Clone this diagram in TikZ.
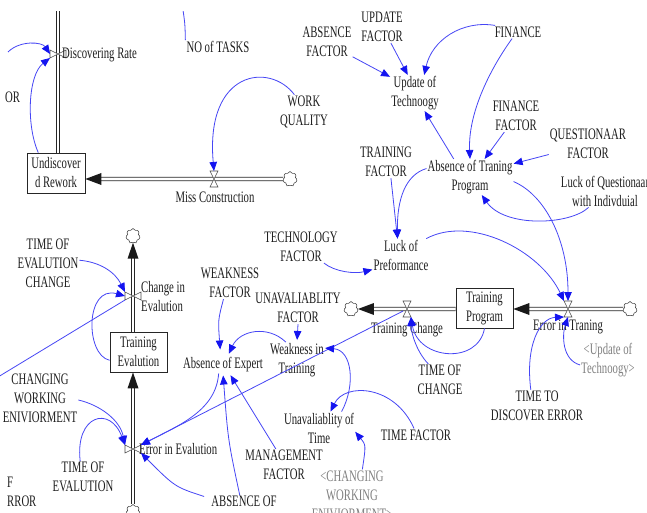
\documentclass[tikz,border=0pt]{standalone}
\usepackage{fontspec}
\setmainfont{Liberation Serif}[FakeStretch=0.67]
\usetikzlibrary{arrows.meta,shapes.symbols}
\definecolor{linkblue}{RGB}{70,70,245}
\definecolor{headblue}{RGB}{20,20,240}
\definecolor{txt}{RGB}{30,30,30}
\definecolor{ghost}{RGB}{128,128,128}
\begin{document}
\begin{tikzpicture}[x=1pt,y=-1pt,
  lbl/.style={font=\fontsize{16}{19}\selectfont, align=center, inner sep=1pt, text=txt},
  stockbox/.style={draw=black!85, line width=0.8pt, fill=white, minimum width=57pt, minimum height=40pt, inner sep=1pt, align=center, font=\fontsize{16}{19}\selectfont, text=txt},
  cloudy/.style={cloud, cloud puffs=7, aspect=1, draw=black!70, line width=0.6pt, fill=white, minimum width=14pt, minimum height=15pt, inner sep=0pt},
  hv/.style={minimum width=8pt, minimum height=16pt, inner sep=0pt, outer sep=0pt},
  vv/.style={minimum width=16pt, minimum height=8pt, inner sep=0pt, outer sep=0pt},
  valveline/.style={draw=black!70, line width=0.6pt, fill=white},
  pipe/.style={draw=black!85, line width=0.9pt, double=white, double distance=2.6pt},
  link/.style={draw=linkblue, line width=0.8pt, -{Triangle[length=9pt,width=7.5pt,color=headblue]}},
  plainlink/.style={draw=linkblue, line width=0.8pt},
  phL/.pic={\fill[black!90] (0,0) -- (16,-6) -- (16,6) -- cycle;},
  phU/.pic={\fill[black!90] (0,0) -- (-5.5,16) -- (5.5,16) -- cycle;}
]
\useasboundingbox (0,0) rectangle (647,513);
\fill[white] (0,0) rectangle (647,513);
\begin{scope}
\clip (0,12) rectangle (647,513);

% stocks
\node[stockbox, minimum width=58pt] (undisc) at (56,173) {Undiscover\\d Rework};
\node[stockbox] (teval) at (138.5,352) {Training\\Evalution};
\node[stockbox] (tprog) at (484.5,308) {Training\\Program};

% clouds
\node[cloudy] (c1) at (290,179) {};
\node[cloudy] (c2) at (133,512) {};
\node[cloudy] (c3) at (133,236) {};
\node[cloudy] (c4) at (630,309) {};
\node[cloudy] (c5) at (351,309) {};

% valves (positions)
\node[vv] (vdisc) at (58,54) {};
\node[hv] (vmiss) at (214,179) {};
\node[vv] (vce) at (133,296) {};
\node[vv] (vee) at (133,449) {};
\node[hv] (vet) at (568,309) {};
\node[hv] (vtc) at (407,309) {};

% pipes
\coordinate (ptop) at (58,0);
\draw[pipe] (ptop) -- (ptop |- undisc.north);
\draw[pipe, shorten >=14pt] (c1.west) -- (undisc.east |- c1);
\pic at (undisc.east |- c1) {phL};
\draw[pipe, shorten >=14pt] (c2.north) -- (c2 |- teval.south);
\pic at (c2 |- teval.south) {phU};
\draw[pipe, shorten >=14pt] (c2 |- teval.north) -- (c3.south);
\pic at (c3.south) {phU};
\draw[pipe, shorten >=14pt] (c4.west) -- (tprog.east |- c4);
\pic at (tprog.east |- c4) {phL};
\draw[pipe, shorten >=14pt] (tprog.west |- c5) -- (c5.east);
\pic at (c5.east) {phL};

% valve glyphs
\foreach \v in {vmiss,vet,vtc}
  \draw[valveline] (\v.north west) -- (\v.north east) -- (\v.south west) -- (\v.south east) -- cycle;
\foreach \v in {vdisc,vce,vee}
  \draw[valveline] (\v.north west) -- (\v.south west) -- (\v.north east) -- (\v.south east) -- cycle;

% valve labels
\node[lbl,anchor=west] (disclbl) at (61,55) {Discovering Rate};
\node[lbl] (misslbl) at (215,197) {Miss Construction};
\node[lbl,anchor=west,align=left] (celbl) at (140,297) {Change in\\Evalution};
\node[lbl,anchor=west] (eelbl) at (138,449) {Error in Evalution};
\node[lbl] (etlbl) at (568,327) {Error in Traning};
\node[lbl] (tclbl) at (407,330) {Training Change};

% auxiliaries
\node[lbl,anchor=west] (orl) at (4,97) {OR};
\node[lbl] (notasks) at (218,47) {NO of TASKS};
\node[lbl] (wq) at (304,112) {WORK\\QUALITY};
\node[lbl] (updf) at (382,27) {UPDATE\\FACTOR};
\node[lbl] (absf) at (327,42) {ABSENCE\\FACTOR};
\node[lbl] (upd) at (415,93) {Update of\\Technoogy};
\node[lbl] (fin) at (518,32) {FINANCE};
\node[lbl] (finf) at (516,116) {FINANCE\\FACTOR};
\node[lbl] (qf) at (588,144) {QUESTIONAAR\\FACTOR};
\node[lbl] (atp) at (470,177) {Absence of Traning\\Program};
\node[lbl] (lq) at (605,191) {Luck of Questionaar\\with Indivduial};
\node[lbl] (trf) at (386,162) {TRAINING\\FACTOR};
\node[lbl] (lp) at (401,255) {Luck of\\Preformance};
\node[lbl] (techf) at (301,247) {TECHNOLOGY\\FACTOR};
\node[lbl] (weakf) at (230,283) {WEAKNESS\\FACTOR};
\node[lbl] (unavf) at (298,308) {UNAVALIABLITY\\FACTOR};
\node[lbl] (wit) at (297,360) {Weakness in\\Training};
\node[lbl] (aoe) at (223,365) {Absence of Expert};
\node[lbl] (absm) at (244,511) {ABSENCE OF\\MANAGEMENT};
\node[lbl] (mgmt) at (284,465) {MANAGEMENT\\FACTOR};
\node[lbl] (uot) at (319,428) {Unavaliablity of\\Time};
\node[lbl] (timef) at (416,435) {TIME FACTOR};
\node[lbl,text=ghost] (cweg) at (352,495) {<CHANGING\\WORKING\\ENIVIORMENT>};
\node[lbl] (toc) at (440,380) {TIME OF\\CHANGE};
\node[lbl] (ttde) at (537,406) {TIME TO\\DISCOVER ERROR};
\node[lbl,text=ghost] (uotg) at (608,360) {<Update of\\Technoogy>};
\node[lbl] (toec) at (48,263) {TIME OF\\EVALUTION\\CHANGE};
\node[lbl] (cwe) at (40,398) {CHANGING\\WORKING\\ENIVIORMENT};
\node[lbl] (toe) at (83,477) {TIME OF\\EVALUTION};
\node[lbl,anchor=west,align=left] (ferr) at (6,492) {F\\RROR};

% connectors
\coordinate (orsrc) at (8,52);
\draw[link] (orsrc) .. controls (20,40) and (42,42) .. (vdisc.west);
\draw[link] (undisc.131) .. controls (26,125) and (28,75) .. (vdisc.south west);
\coordinate (ntsrc) at (183,10);
\draw[plainlink] (ntsrc) .. controls (185,24) .. (notasks.north west);
\draw[link] (wq.119) .. controls (270,62) and (205,70) .. (vmiss.north);
\draw[link] (updf.-61) -- (upd.112);
\draw[link] (absf.-30) -- (upd.147);
\draw[link] (fin.164) .. controls (462,20) and (432,40) .. (upd.63);
\draw[link] (fin.228) .. controls (488,72) and (468,115) .. (atp.north);
\draw[link] (finf.234) -- (atp.51);
\draw[link] (qf.195) -- (atp.17);
\draw[link] (atp.132) -- (upd.-62);
\draw[link] (lq.225) .. controls (570,225) and (505,228) .. (atp.-57);
\draw[link] (atp.-6) .. controls (545,195) and (568,240) .. (vet.north);
\draw[link] (trf.-73) -- (lp.102);
\draw[link] (atp.169) .. controls (405,175) and (397,200) .. (lp.102);
\draw[link] (lp.33) .. controls (470,215) and (540,250) .. (vet.north west);
\draw[link] (techf.-35) .. controls (335,272) and (355,274) .. (lp.207);
\draw[link, shorten >=7pt] (weakf.248) .. controls (218,320) .. (aoe.105);
\draw[link, shorten >=2pt] (unavf.south) -- (wit.north);
\draw[link, shorten >=3pt] (wit.122) .. controls (268,325) and (240,330) .. (aoe.62);
\draw[link] (aoe.243) .. controls (216,410) and (180,425) .. (vee.north east);
\draw[link, shorten >=2pt] (absm.105) .. controls (228,440) .. (aoe.south);
\draw[link, shorten >=2pt] (mgmt.117) -- (aoe.-53);
\draw[link] (absm.160) .. controls (175,487) .. (vee.south east);
\draw[link] (vtc) -- (vee);
\draw[link] (toc.126) .. controls (415,350) and (411,330) .. (vtc.south east);
\draw[link] (tprog.south) .. controls (478,365) and (418,360) .. (vtc.south east);
\draw[link] (ttde.111) .. controls (525,345) and (540,318) .. (vet.south west);
\draw[link] (uotg.190) .. controls (562,360) and (562,335) .. (vet.south);
\draw[link] (timef.107) .. controls (395,385) and (345,382) .. (uot.55);
\draw[link] (cweg.68) .. controls (366,445) .. (uot.-6);
\draw[link] (uot.36) .. controls (356,385) and (352,350) .. (wit.23);
\draw[link] (toec.5) .. controls (100,262) and (115,272) .. (vce.north west);
\draw[link] (teval.196) .. controls (85,355) and (85,285) .. (vce.west);
\coordinate (lsrc) at (-2,377);
\draw[plainlink] (lsrc) -- (vce.south west);
\draw[link] (cwe.-3) .. controls (100,405) and (120,420) .. (vee.north west);
\draw[link] (toe.100) .. controls (75,415) and (110,405) .. (vee.north west);
\end{scope}
\end{tikzpicture}
\end{document}
